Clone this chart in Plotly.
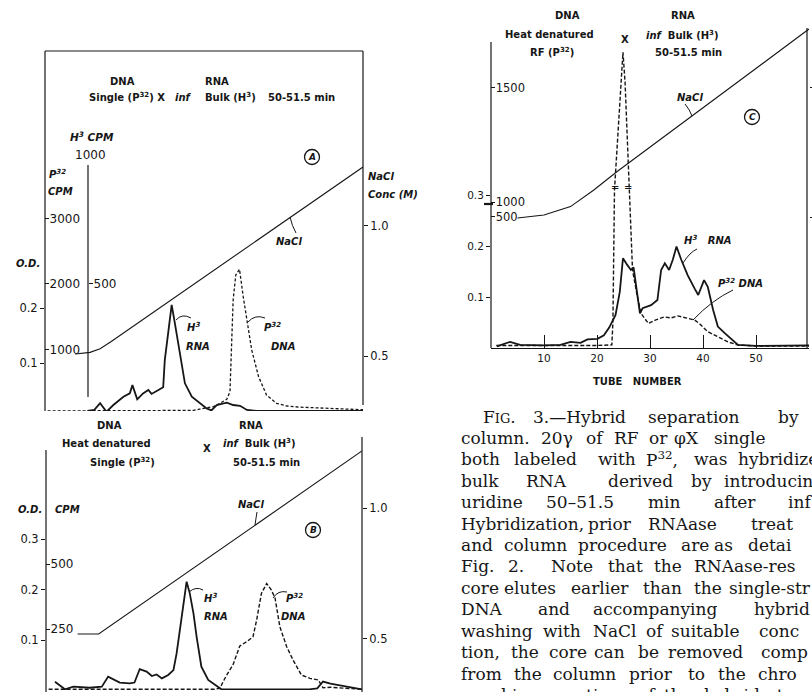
import plotly.graph_objects as go

W, H = 812, 692
INK = '#161616'


def fx(p):
    return p / W


def fy(p):
    return 1 - p / H


# ---------------- data ----------------
# Panel A: tube number vs H3 CPM (RNA), P32 CPM (DNA), NaCl molarity
a_h3_tube = [8, 9.3, 10.4, 11.6, 12.9, 14.8, 16.0, 16.5, 17.4, 18.5, 19.5, 20.1, 21.4, 22.3,
             22.6, 23.1, 23.9, 24.5, 25.5, 26.4, 27.7, 29.2, 30.5, 31.4, 32.4, 34.3, 35.5,
             36.8, 38.1, 40, 45, 50, 55, 60]
a_h3_cpm = [8, 12, 38, 5, 31, 63, 76, 108, 53, 76, 89, 74, 89, 100,
            205, 283, 419, 348, 218, 115, 63, 38, 18, 10, 31, 40, 31,
            28, 12, 8, 8, 8, 8, 8]

a_p32_tube = [0.5, 5, 10, 15, 20, 25, 28, 29.9, 31.8, 33.0, 34.3, 34.9, 35.2, 35.5, 36.0,
              36.7, 37.4, 38.1, 39.0, 40.3, 41.8, 43.7, 45.6, 48.1, 51.9, 55.7, 60]
a_p32_cpm = [62, 62, 62, 62, 62, 62, 70, 102, 127, 178, 240, 356, 942, 1756, 2138,
             2225, 1807, 1450, 993, 585, 305, 178, 137, 120, 110, 95, 80]

a_nacl_tube = [5.7, 8.5, 10.4, 12.5, 60]
a_nacl_m = [0.508, 0.514, 0.528, 0.556, 1.227]

# Panel B
b_h3_tube = [1.7, 3.6, 5.2, 8.3, 10.6, 11.8, 14.0, 15.9, 16.8, 17.8, 19.1, 20.1, 21.0, 22.0,
             23.2, 24.2, 24.8, 25.7, 26.7, 27.3, 28.0, 28.6, 29.5, 30.8, 32.4, 33.3, 36, 40,
             45, 50, 51.5, 52.6, 54, 56, 58, 60]
b_h3_cpm = [47, 18, 28, 24, 28, 67, 44, 41, 44, 96, 86, 69, 75, 60,
            73, 92, 156, 285, 432, 387, 310, 220, 105, 54, 31, 18, 18, 18,
            18, 18, 22, 48, 40, 32, 24, 18]

b_p32_tube = [0.5, 5, 10, 15, 20, 25, 30, 32, 33.0, 34.3, 35.5, 36.8, 38.1, 39.3, 40.0, 40.9,
              41.9, 42.8, 43.5, 44.4, 45.7, 46.9, 48.5, 50.1, 51.7, 52.6, 54, 56, 58, 60]
b_p32_cpm = [18, 18, 18, 18, 18, 18, 18, 18, 22, 73, 112, 185, 201, 220, 285, 387,
             425, 400, 368, 259, 182, 131, 73, 60, 54, 24, 26, 23, 20, 18]

b_nacl_tube = [6, 10, 60]
b_nacl_m = [0.519, 0.519, 1.218]

# Panel C (O.D. scale; the P32 peak is on the broken upper scale)
c_h3_tube = [1.1, 3.6, 5.5, 10, 13.1, 15, 16.9, 18.2, 20.1, 21.3, 22.3, 23.5, 24.3, 24.9,
             25.7, 26.4, 26.9, 27.5, 28.1, 28.6, 30.2, 31.4, 32.1, 32.8, 33.6, 34.3, 35.0,
             35.9, 37.1, 38.4, 39.1, 40.2, 40.9, 41.9, 42.8, 44.1, 45.4, 46.6, 50, 55, 60]
c_h3_od = [0.003, 0.012, 0.006, 0.005, 0.006, 0.012, 0.010, 0.017, 0.018, 0.025, 0.040, 0.065,
           0.110, 0.176, 0.163, 0.153, 0.158, 0.107, 0.068, 0.078, 0.084, 0.094, 0.153, 0.166,
           0.153, 0.173, 0.199, 0.173, 0.143, 0.117, 0.104, 0.133, 0.120, 0.075, 0.042, 0.029,
           0.016, 0.006, 0.004, 0.004, 0.005]

c_p32_tube = [1, 5, 10, 15, 20, 22.8, 23.0, 23.3, 24.5, 24.9, 25.3, 26.1, 26.7, 27.5, 28.3,
              29.7, 31.1, 32.7, 34.0, 35.2, 36.8, 38.4, 39.3, 40.9, 42.8, 44.7, 46.6, 50, 55, 60]
c_p32_od = [0.005, 0.005, 0.004, 0.004, 0.005, 0.006, 0.05, 0.31, 0.52, 0.58, 0.52, 0.31,
            0.153, 0.107, 0.068, 0.048, 0.055, 0.061, 0.059, 0.063, 0.059, 0.055, 0.048,
            0.032, 0.022, 0.012, 0.006, 0.004, 0.004, 0.004]

c_nacl_tube = [5, 10, 15, 19.4, 23.8, 60]
c_nacl_m = [0.496, 0.508, 0.540, 0.604, 0.675, 1.223]

# tick labels
tube_ticks = [10, 20, 30, 40, 50, 60]
c_cpm_tickpos = [0.257, 0.286, 0.51]
c_cpm_ticktext = ['500', '1000', '1500']

# caption (words with their x positions, one list per printed line)
caption_lines = [
    [(482, "F<span style='font-size:13px'>IG</span>."), (532, "3.—Hybrid"), (647, "separation"), (777, "by")],
    [(460, "column."), (540, "20γ"), (585, "of"), (613, "RF"), (648, "or"), (673, "φX"), (713, "single")],
    [(460, "both"), (513, "labeled"), (597, "with"), (645, "P<sup>32</sup>,"), (693, "was"), (737, "hybridize")],
    [(460, "bulk"), (525, "RNA"), (607, "derived"), (690, "by"), (723, "introducin")],
    [(460, "uridine"), (545, "50–51.5"), (647, "min"), (713, "after"), (787, "inf")],
    [(460, "Hybridization,"), (587, "prior"), (647, "RNAase"), (750, "treat")],
    [(460, "and"), (503, "column"), (577, "procedure"), (680, "are"), (713, "as"), (747, "detai")],
    [(460, "Fig."), (507, "2."), (550, "Note"), (607, "that"), (653, "the"), (693, "RNAase-res")],
    [(460, "core"), (503, "elutes"), (570, "earlier"), (642, "than"), (693, "the"), (728, "single-str")],
    [(460, "DNA"), (537, "and"), (592, "accompanying"), (753, "hybrid")],
    [(460, "washing"), (542, "with"), (592, "NaCl"), (645, "of"), (670, "suitable"), (758, "conc")],
    [(460, "tion,"), (510, "the"), (548, "core"), (593, "can"), (637, "be"), (667, "removed"), (760, "comp")],
    [(460, "from"), (513, "the"), (552, "column"), (628, "prior"), (687, "to"), (717, "the"), (757, "chro")],
    [(460, "graphic"), (527, "separation"), (637, "of"), (663, "the"), (703, "hybrid"), (767, "stra")],
]

# ---------------- figure ----------------
fig = go.Figure()


def add(x, y, xa, ya, width, dash=None):
    fig.add_trace(go.Scatter(x=x, y=y, xaxis=xa, yaxis=ya, mode='lines',
                             line=dict(color=INK, width=width, dash=dash),
                             hoverinfo='skip', showlegend=False))


def empty(xa, ya):
    fig.add_trace(go.Scatter(x=[], y=[], xaxis=xa, yaxis=ya, mode='lines',
                             hoverinfo='skip', showlegend=False))


empty('x', 'y')
add(a_p32_tube, a_p32_cpm, 'x', 'y2', 1.3, '3px,2px')
add(a_h3_tube, a_h3_cpm, 'x', 'y3', 1.8)
add(a_nacl_tube, a_nacl_m, 'x', 'y4', 1.1)

empty('x2', 'y5')
add(b_p32_tube, b_p32_cpm, 'x2', 'y6', 1.4, '4px,2px')
add(b_h3_tube, b_h3_cpm, 'x2', 'y6', 1.8)
add(b_nacl_tube, b_nacl_m, 'x2', 'y7', 1.1)

add(c_h3_tube, c_h3_od, 'x3', 'y8', 1.8)
add(c_p32_tube, c_p32_od, 'x3', 'y9', 1.4, '4px,2px')
add(c_nacl_tube, c_nacl_m, 'x3', 'y10', 1.1)


def yax(rng, tickvals, ticktext=None, ticks='outside', inside=False, side='left',
        size=11.5, ticklen=4, labels=True, **kw):
    d = dict(range=rng, tickvals=tickvals,
             ticktext=ticktext if ticktext else [str(v) for v in tickvals],
             ticks=ticks, ticklen=ticklen, tickwidth=1, tickcolor=INK,
             showgrid=False, zeroline=False, showline=False, side=side,
             showticklabels=labels, automargin=False, fixedrange=True,
             tickfont=dict(family='DejaVu Sans', size=size, color=INK))
    if inside:
        d['ticklabelposition'] = 'inside'
    d.update(kw)
    return d


hidden_x = dict(range=[0, 60], visible=False, fixedrange=True, automargin=False)

layout = dict(
    width=W, height=H, margin=dict(l=0, r=0, t=0, b=0), template='none',
    paper_bgcolor='white', plot_bgcolor='rgba(0,0,0,0)', showlegend=False,
    font=dict(family='DejaVu Sans', size=11, color=INK),
    # Panel A
    xaxis=dict(domain=[fx(45), fx(363)], anchor='y', **hidden_x),
    yaxis=yax([0.01273, 0.6673], [0.1, 0.2], ['0.1', '0.2'], domain=[fy(411), fy(51)], anchor='x'),
    yaxis2=yax([61, 5557], [1000, 2000, 3000], ticks='inside', inside=True, size=12,
               overlaying='y', anchor='x'),
    yaxis3=yax([7.75, 1403], [500], ticks='inside', inside=True, size=12,
               overlaying='y', anchor='free', position=fx(88)),
    yaxis4=yax([0.2885, 1.673], [0.5, 1.0], ['0.5', '1.0'], side='right', overlaying='y', anchor='x'),
    # Panel B
    xaxis2=dict(domain=[fx(46), fx(362)], anchor='y5', **hidden_x),
    yaxis5=yax([0.00099, 0.502], [0.1, 0.2, 0.3], ['0.1', '0.2', '0.3'],
               domain=[fy(690), fy(437)], anchor='x2'),
    yaxis6=yax([15.4, 988.5], [250, 500], ticks='inside', inside=True, size=12,
               overlaying='y5', anchor='x2'),
    yaxis7=yax([0.3053, 1.271], [0.5, 1.0], ['0.5', '1.0'], side='right', overlaying='y5', anchor='x2'),
    # Panel C
    xaxis3=dict(domain=[fx(491), fx(809)], anchor='y8', range=[0, 60], tickvals=tube_ticks,
                ticks='inside', ticklen=13, tickwidth=1, tickcolor=INK, showline=True,
                linecolor=INK, linewidth=1.2, showgrid=False, zeroline=False,
                fixedrange=True, automargin=False,
                tickfont=dict(family='DejaVu Sans', size=10.5, color=INK)),
    yaxis8=yax([0, 0.6275], [0.1, 0.2, 0.3], ['0.1', '0.2', '0.3'], size=10.5,
               domain=[fy(348), fy(28)], anchor='x3'),
    yaxis9=yax([0, 0.6275], c_cpm_tickpos, c_cpm_ticktext, ticks='inside', inside=True, size=11.5,
               overlaying='y8', anchor='x3'),
    yaxis10=yax([-0.0038, 1.227], [0.5, 1.0], ['0.5', '1.0'], side='right', labels=False,
                ticklen=6, overlaying='y8', anchor='x3'),
)

# ---------------- frame lines, leaders, circles ----------------
shapes = []


def seg(x0, y0, x1, y1, w=1.2):
    shapes.append(dict(type='line', xref='paper', yref='paper', x0=fx(x0), y0=fy(y0),
                       x1=fx(x1), y1=fy(y1), line=dict(color=INK, width=w)))


def curve(p0, c, p1, w=1.0):
    path = 'M {},{} Q {},{} {},{}'.format(fx(p0[0]), fy(p0[1]), fx(c[0]), fy(c[1]),
                                          fx(p1[0]), fy(p1[1]))
    shapes.append(dict(type='path', xref='paper', yref='paper', path=path,
                       line=dict(color=INK, width=w)))


def ring(cx, cy, r=7.5):
    shapes.append(dict(type='circle', xref='paper', yref='paper', x0=fx(cx - r), x1=fx(cx + r),
                       y0=fy(cy + r), y1=fy(cy - r), line=dict(color=INK, width=1.3)))


# Panel A frame
seg(45, 51, 45, 411)
seg(45, 51, 363, 51)
seg(363, 51, 363, 405)
seg(88, 165, 88, 397)
# Panel B frame
seg(46, 450, 46, 692)
seg(362, 437, 362, 692)
# Panel C frame
seg(491, 42, 491, 348)
seg(807, 28, 807, 348)
seg(484, 204, 493, 204, 2.2)

# leaders
curve((176, 320), (182, 313), (191, 318))
curve((248, 322), (255, 314), (265, 318))
curve((290, 217), (292, 226), (296, 233))
curve((257, 512), (256, 518), (255, 525))
curve((189, 592), (196, 586), (203, 590))
curve((273, 598), (278, 590), (287, 592))
curve((685, 104), (690, 110), (692, 116))
curve((683, 263), (690, 252), (697, 249))
curve((693, 320), (712, 300), (733, 290))

ring(312, 157)
ring(313, 530)
ring(752, 117)

# ---------------- text ----------------
ann = []


def T(x, y, text, size=10, bold=True, italic=False, xanchor='center', family='DejaVu Sans'):
    t = text
    if italic:
        t = '<i>' + t + '</i>'
    if bold:
        t = '<b>' + t + '</b>'
    ann.append(dict(x=fx(x), y=fy(y), xref='paper', yref='paper', text=t, showarrow=False,
                    xanchor=xanchor, yanchor='middle', borderpad=0,
                    font=dict(family=family, size=size, color=INK)))


# Panel A
T(122, 81, 'DNA')
T(217, 81, 'RNA')
T(127, 97, 'Single (P<sup>32</sup>) X')
T(183, 97, 'inf', italic=True)
T(230, 97, 'Bulk (H<sup>3</sup>)')
T(301, 97, '50-51.5 min')
T(92, 137, 'H<sup>3</sup> CPM', italic=True, size=10.5)
T(90, 155, '1000', bold=False, size=12)
T(48, 174, 'P<sup>32</sup>', italic=True, xanchor='left')
T(47, 192, 'CPM', italic=True, xanchor='left')
T(28, 264, 'O.D.', italic=True)
T(312, 157, 'A', italic=True, size=9)
T(289, 242, 'NaCl', italic=True)
T(367, 176, 'NaCl', italic=True, xanchor='left')
T(367, 194, 'Conc (M)', italic=True, xanchor='left')
T(186, 327, 'H<sup>3</sup>', italic=True, xanchor='left')
T(185, 347, 'RNA', italic=True, xanchor='left')
T(263, 327, 'P<sup>32</sup>', italic=True, xanchor='left')
T(270, 347, 'DNA', italic=True, xanchor='left')

# Panel B
T(109, 425, 'DNA')
T(106, 443, 'Heat denatured')
T(122, 462, 'Single (P<sup>32</sup>)')
T(207, 448, 'X')
T(251, 425, 'RNA')
T(259, 443, '<i>inf</i>  Bulk (H<sup>3</sup>)')
T(266, 462, '50-51.5 min')
T(30, 509, 'O.D.', italic=True)
T(67, 509, 'CPM', italic=True)
T(251, 504, 'NaCl', italic=True)
T(313, 530, 'B', italic=True, size=9)
T(203, 598, 'H<sup>3</sup>', italic=True, xanchor='left')
T(203, 616, 'RNA', italic=True, xanchor='left')
T(285, 598, 'P<sup>32</sup>', italic=True, xanchor='left')
T(280, 616, 'DNA', italic=True, xanchor='left')

# Panel C
T(567, 15, 'DNA')
T(549, 35, 'Heat denatured')
T(552, 52, 'RF (P<sup>32</sup>)')
T(625, 40, 'X')
T(683, 15, 'RNA')
T(682, 35, '<i>inf</i>  Bulk (H<sup>3</sup>)')
T(688, 52, '50-51.5 min')
T(690, 97, 'NaCl', italic=True)
T(752, 117, 'C', italic=True, size=9)
T(683, 240, 'H<sup>3</sup>   RNA', italic=True, xanchor='left')
T(717, 283, 'P<sup>32</sup> DNA', italic=True, xanchor='left')
T(615, 187, '=', bold=False, size=10)
T(628, 187, '=', bold=False, size=10)
T(637, 381, 'TUBE   NUMBER', size=10)

# Caption
for k, line in enumerate(caption_lines):
    yc = 422.3 + k * 21.42 - 5.8
    for xw, word in line:
        T(xw, yc, word, bold=False, size=17, xanchor='left', family='DejaVu Serif')

layout['shapes'] = shapes
layout['annotations'] = ann
fig.update_layout(**layout)
fig.write_html('out.html', config={'displayModeBar': False, 'staticPlot': True},
               post_script="document.body.style.margin='0';document.body.style.overflow='hidden';")
